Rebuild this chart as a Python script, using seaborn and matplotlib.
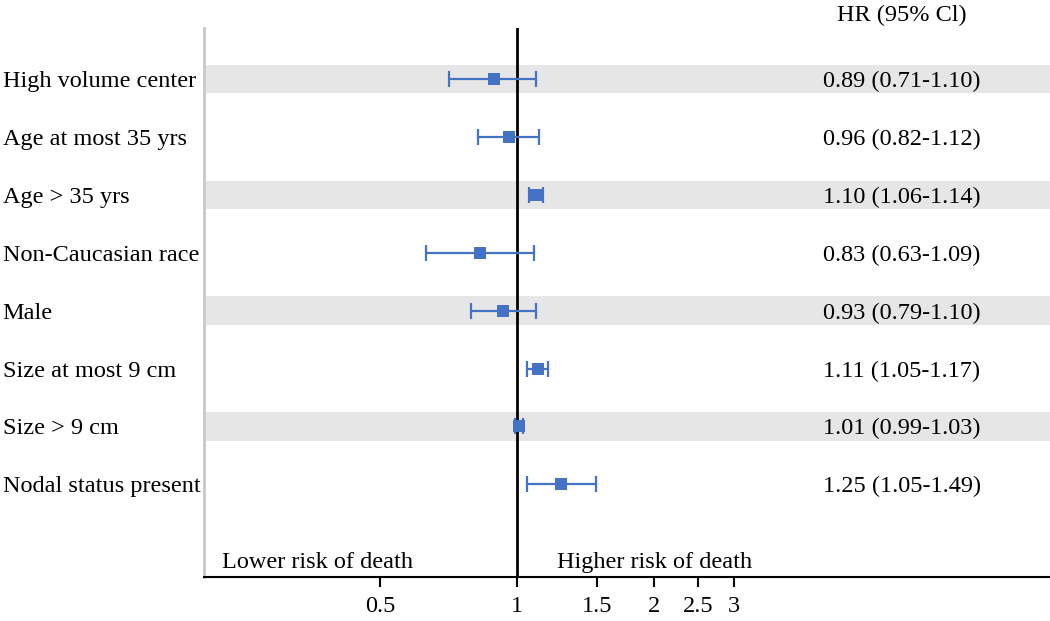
import matplotlib
matplotlib.use("Agg")
import matplotlib.pyplot as plt
import seaborn as sns
import numpy as np
import pandas as pd

# data
labels = ["High volume center", "Age at most 35 yrs", "Age > 35 yrs", "Non-Caucasian race",
          "Male", "Size at most 9 cm", "Size > 9 cm", "Nodal status present"]
hr = [0.89, 0.96, 1.10, 0.83, 0.93, 1.11, 1.01, 1.25]
lo = [0.71, 0.82, 1.06, 0.63, 0.79, 1.05, 0.99, 1.05]
hi = [1.10, 1.12, 1.14, 1.09, 1.10, 1.17, 1.03, 1.49]
xticks = [0.5, 1, 1.5, 2, 2.5, 3]

df = pd.DataFrame({"label": labels, "hr": hr, "lo": lo, "hi": hi})
df["row"] = np.arange(len(df))

sns.set_theme(style="white")
plt.rcParams["font.family"] = ["Liberation Serif", "DejaVu Serif"]
plt.rcParams["text.color"] = "black"
plt.rcParams["xtick.color"] = "black"
plt.rcParams["ytick.color"] = "black"

fs = 17.5
blue = "#4472C4"
fig = plt.figure(figsize=(10.5, 6.21), dpi=100)
ax = fig.add_axes([204 / 1050, 1 - 577 / 621, 1 - 204 / 1050, (577 - 28) / 621])

# shaded alternating rows
for r in df["row"]:
    if r % 2 == 0:
        ax.axhspan(r - 0.245, r + 0.245, color="#e6e6e6", lw=0, zorder=0)

ax.axvline(1, color="black", lw=2, zorder=1)

ax.errorbar(df["hr"], df["row"], xerr=[df["hr"] - df["lo"], df["hi"] - df["hr"]],
            fmt="none", ecolor=blue, elinewidth=1.6, capsize=5.5, capthick=1.6, zorder=2)
sns.scatterplot(data=df, x="hr", y="row", marker="s", s=75, color=blue,
                edgecolor=blue, linewidth=0, ax=ax, zorder=3, legend=False)

ax.set_xscale("log")
ax.set_xlim(0.205, 14.84)
ax.set_ylim(8.6, -0.88)
ax.set_xticks(xticks)
ax.set_xticklabels([f"{t:g}" for t in xticks], fontsize=fs)
ax.minorticks_off()
ax.tick_params(axis="x", bottom=True, direction="out", length=7, width=1.5,
               color="black", labelcolor="black", pad=7)
ax.set_xlabel("")
ax.set_ylabel("")

ax.set_yticks(df["row"])
ax.set_yticklabels(df["label"], fontsize=fs, ha="left", va="center_baseline")
ax.tick_params(axis="y", left=False, length=0, pad=145, labelcolor="black")

for s in ["top", "right"]:
    ax.spines[s].set_visible(False)
ax.spines["left"].set_color("#c8c8c8")
ax.spines["left"].set_linewidth(2)
ax.spines["bottom"].set_color("black")
ax.spines["bottom"].set_linewidth(1.5)

# HR column
hx = (902 - 204) / 846
tr = ax.get_yaxis_transform()
ax.text(hx, -1.14, "HR (95% Cl)", transform=tr, ha="center",
        va="center_baseline", fontsize=fs, clip_on=False)
for r, h, l, u in zip(df["row"], hr, lo, hi):
    ax.text(hx, r, f"{h:.2f} ({l:.2f}-{u:.2f})", transform=tr,
            ha="center", va="center_baseline", fontsize=fs)

ax.text((222 - 204) / 846, 8.31, "Lower risk of death", transform=tr,
        ha="left", va="center_baseline", fontsize=fs)
ax.text((557 - 204) / 846, 8.31, "Higher risk of death", transform=tr,
        ha="left", va="center_baseline", fontsize=fs)

fig.savefig("out.png", dpi=100)
